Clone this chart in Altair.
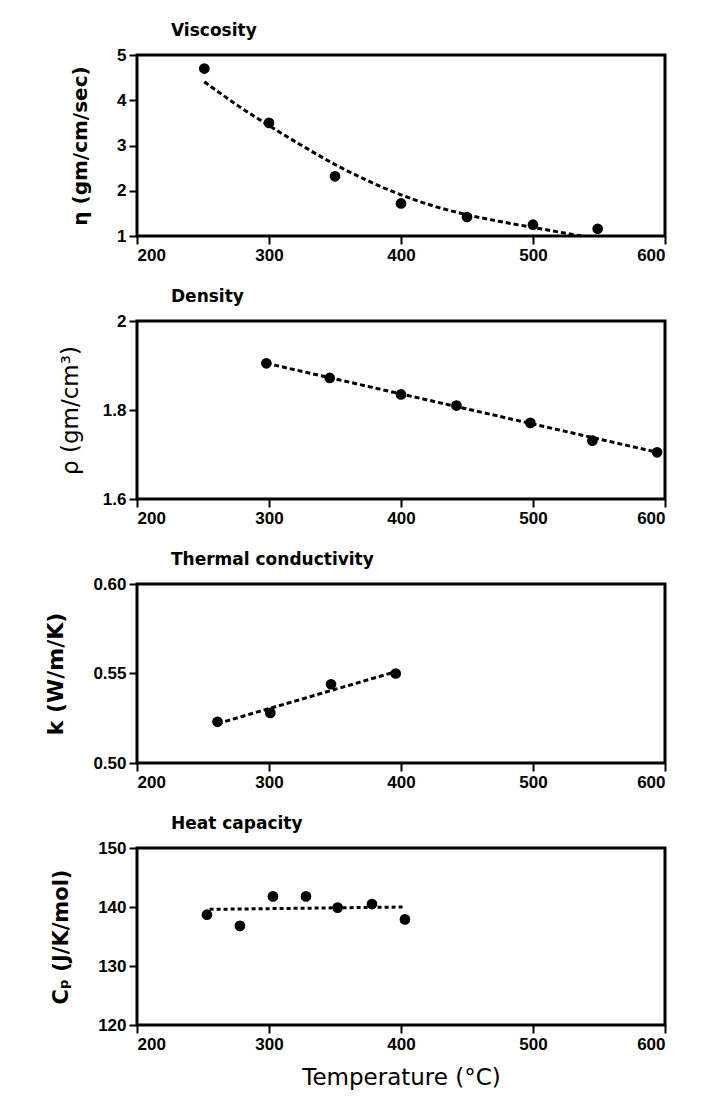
import altair as alt
import pandas as pd

# ---- data ----
visc_T = [251, 300, 350, 400, 450, 500, 549]
visc_v = [4.70, 3.50, 2.32, 1.72, 1.42, 1.25, 1.16]
visc_fit_T = [251, 277, 300, 326, 350, 375, 400, 425, 450, 475, 500, 525, 541]
visc_fit_v = [4.41, 3.87, 3.44, 2.98, 2.58, 2.22, 1.91, 1.66, 1.47, 1.32, 1.19, 1.06, 0.98]

dens_T = [298, 346, 400, 442, 498, 545, 594]
dens_v = [1.905, 1.872, 1.835, 1.810, 1.771, 1.731, 1.705]
dens_fit_T = [298, 594]
dens_fit_v = [1.905, 1.705]

therm_T = [261, 301, 347, 396]
therm_v = [0.523, 0.528, 0.544, 0.550]
therm_fit_T = [261, 396]
therm_fit_v = [0.522, 0.551]

heat_T = [253, 278, 303, 328, 352, 378, 403]
heat_v = [138.7, 136.8, 141.8, 141.8, 139.9, 140.5, 137.9]
heat_fit_T = [255, 403]
heat_fit_v = [139.6, 140.0]

x_ticks = [200, 300, 400, 500, 600]

TITLE_FONT = "DejaVu Sans"


def panel(title, T, v, fT, fV, ydom, yticks, yfmt, ytitle, ytitle_x, ytitle_weight,
          ytitle_size, height, dash, xtitle=None):
    pts = pd.DataFrame({"T": T, "v": v})
    fit = pd.DataFrame({"T": fT, "v": fV})
    xaxis = alt.Axis(values=x_ticks, format="d", title=xtitle,
                     titleFont=TITLE_FONT, titleFontWeight="normal",
                     titleFontSize=23, titlePadding=14)
    yaxis = alt.Axis(values=yticks, format=yfmt, title=ytitle,
                     titleX=ytitle_x, titleBaseline="middle",
                     titleFont=TITLE_FONT, titleFontWeight=ytitle_weight,
                     titleFontSize=ytitle_size)
    xenc = alt.X("T:Q", scale=alt.Scale(domain=[200, 600], nice=False, zero=False), axis=xaxis)
    yenc = alt.Y("v:Q", scale=alt.Scale(domain=ydom, nice=False, zero=False), axis=yaxis)
    line = alt.Chart(fit).mark_line(color="black", strokeWidth=3, strokeDash=dash,
                                    interpolate="monotone", clip=True).encode(x=xenc, y=yenc)
    dots = alt.Chart(pts).mark_circle(size=115, color="black", opacity=1).encode(x=xenc, y=yenc)
    return alt.layer(line, dots).properties(
        width=528, height=height,
        title=alt.TitleParams(title, anchor="start", frame="group", dx=34, dy=21, offset=14,
                              font=TITLE_FONT, fontWeight="bold", fontSize=17,
                              color="black", baseline="alphabetic"))


p1 = panel("Viscosity", visc_T, visc_v, visc_fit_T, visc_fit_v, [1, 5], [1, 2, 3, 4, 5], "d",
           "η  (gm/cm/sec)", -57, "bold", 20, 181, [5, 3])
p2 = panel("Density", dens_T, dens_v, dens_fit_T, dens_fit_v, [1.6, 2.0], [1.6, 1.8, 2.0], "~g",
           "ρ (gm/cm³)", -67, "normal", 23, 178, [5, 3])
p3 = panel("Thermal conductivity", therm_T, therm_v, therm_fit_T, therm_fit_v, [0.5, 0.6],
           [0.5, 0.55, 0.6], ".2f", "k  (W/m/K)", -82, "bold", 22, 179, [5, 3])
p4 = panel("Heat capacity", heat_T, heat_v, heat_fit_T, heat_fit_v, [120, 150],
           [120, 130, 140, 150], "d", "Cₚ  (J/K/mol)", -76, "bold", 21, 177, [4, 3],
           xtitle="Temperature (°C)")

chart = alt.vconcat(p1, p2, p3, p4, spacing=21).properties(
    padding={"left": 34, "top": 12, "right": 20, "bottom": 10},
    background="white",
).configure_axis(
    domain=False, grid=False, tickColor="black", tickWidth=2, tickSize=8,
    labelFont="Liberation Sans", labelFontWeight="bold", labelFontSize=17,
    labelColor="black", labelPadding=3, titleColor="black",
).configure_view(stroke="black", strokeWidth=3)

chart.save("out.html", embed_options={"renderer": "svg", "actions": False})
